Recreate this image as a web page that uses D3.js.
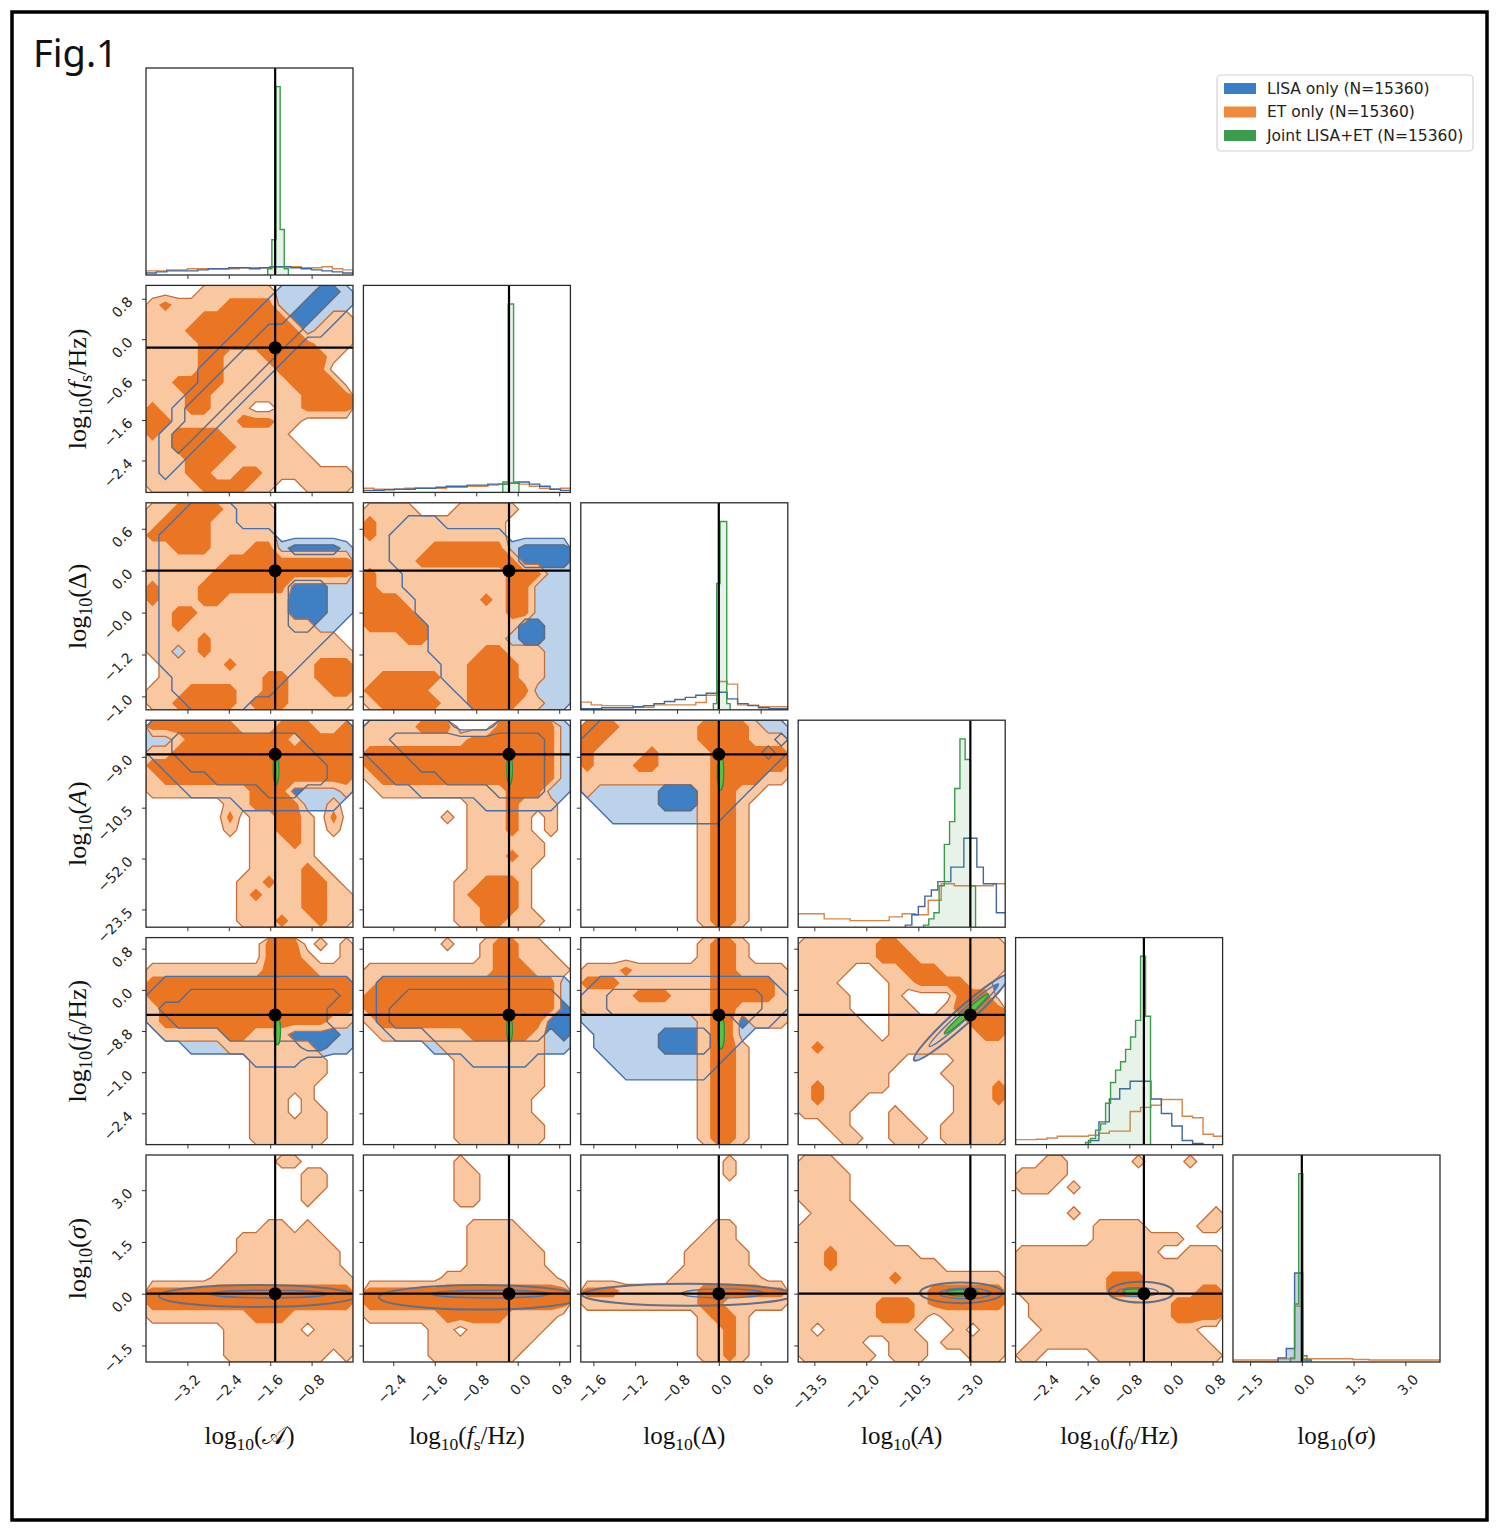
<!DOCTYPE html>
<html>
<head>
<meta charset="utf-8">
<script src="https://cdn.jsdelivr.net/npm/d3@7"></script>
<style>
  body { margin: 0; background: #fff; }
  svg text { font-family: "DejaVu Sans", sans-serif; }
</style>
</head>
<body>
<div id="chart"></div>
<script>
// ---- axis set-up (tick positions are in tick-index units, labels as printed) ----
const xDomains = [[-1, 4], [-0.72, 4.27], [-0.3, 4.65], [-0.31, 3.67], [-0.73, 4.24], [-0.33, 3.67]];
const xTickLabels = [
  ["\u22123.2", "\u22122.4", "\u22121.6", "\u22120.8"],
  ["\u22122.4", "\u22121.6", "\u22120.8", "0.0", "0.8"],
  ["\u22121.6", "\u22121.2", "\u22120.8", "0.0", "0.6"],
  ["\u221213.5", "\u221212.0", "\u221210.5", "\u22123.0"],
  ["\u22122.4", "\u22121.6", "\u22120.8", "0.0", "0.8"],
  ["\u22121.5", "0.0", "1.5", "3.0"]
];
const xTruth = [2.12, 2.79, 3.0, 3.0, 2.35, 1.0];

const yDomains = [null, [-0.33, 4.79], [-0.62, 4.32], [-0.72, 3.35], [-0.27, 4.76], [-0.68, 3.32]];
const yTickLabels = [
  null,
  ["0.8", "0.0", "\u22120.6", "\u22121.6", "\u22122.4"],
  ["0.6", "0.0", "\u22120.0", "\u22121.2", "\u22121.0"],
  ["\u22129.0", "\u221210.5", "\u221252.0", "\u221223.5"],
  ["0.8", "0.0", "\u22128.8", "\u22121.0", "\u22122.4"],
  ["3.0", "1.5", "0.0", "\u22121.5"]
];
const yTruth = [null, 1.21, 1.0, -0.05, 1.61, 2.0];

// label pieces: i = italic, r = roman, s = roman subscript
const titleParts = [
  [["\u{1D49C}", "r"]],
  [["f", "i"], ["s", "s"], ["/Hz", "r"]],
  [["\u0394", "r"]],
  [["A", "i"]],
  [["f", "i"], ["0", "s"], ["/Hz", "r"]],
  [["\u03C3", "i"]]
];

const seriesNames = ["LISA only (N=15360)", "ET only (N=15360)", "Joint LISA+ET (N=15360)"];

// ---- 1D marginals: bin start, bin width, heights (% of panel height) ----
const histLisa = [
  { x0: -1, w: 0.25, h: [1, 1.5, 2, 2, 2, 2.5, 3, 3, 3.5, 3.5, 3, 3.5, 4, 4, 3.5, 3, 2.5, 2, 1.5, 1] },
  { x0: -0.72, w: 0.25, h: [1, 1, 1.3, 1.5, 1.5, 2, 2, 2.5, 3, 3, 3.5, 3.5, 4, 4, 4.5, 5, 4, 3, 1.5, 1] },
  { x0: -0.3, w: 0.25, h: [0.5, 0.5, 1, 1, 1, 1.5, 2, 3, 4, 5, 6, 7, 8, 8.5, 5.3, 3, 2, 1, 0.5, 0.5] },
  { x0: 1.75, w: 0.125, h: [1, 6, 10, 15, 18, 22, 22, 29, 29, 43, 43, 29, 21, 21, 7, 7] },
  { x0: -0.73, w: 0.25, h: [0, 0, 0, 0, 0, 0, 0, 2, 11, 22, 27, 30.6, 30.6, 22, 15, 9, 2, 0.5, 0, 0] },
  { x0: -0.42, w: 0.16, h: [0, 0, 0, 0, 0, 0, 2, 6.5, 43, 1] }
];
const histET = [
  { x0: -1, w: 0.25, h: [2, 2, 2.5, 2.5, 3, 3, 3, 3, 3, 3.5, 3.5, 3.5, 4, 4, 4, 3.5, 3.5, 4, 3, 2.5] },
  { x0: -0.72, w: 0.25, h: [2, 1.5, 1.5, 1.5, 2, 2, 2, 2, 2.5, 2.5, 3, 3, 3.5, 4, 4.5, 4, 3, 2, 1.5, 2] },
  { x0: -0.3, w: 0.25, h: [3.7, 2.4, 2, 2, 2, 1.2, 1.2, 2.4, 2.4, 2.4, 2.4, 3.5, 7, 13.7, 12.4, 2.4, 2.2, 1.5, 1.5, 1.5] },
  { x0: -0.31, w: 0.25, h: [6.5, 6.5, 4, 4, 3.2, 3.2, 3.2, 5, 6.5, 6, 13, 21, 20, 20, 20, 21] },
  { x0: -0.73, w: 0.25, h: [2.4, 2.4, 2.6, 3.2, 4, 4, 4, 4.5, 5.5, 6.5, 6.5, 16, 18, 19, 21.8, 21.8, 13.7, 13, 5, 4] },
  { x0: -0.42, w: 0.16, h: [1, 1, 1, 1, 1, 1, 1.5, 1.5, 27, 1.6, 1.6, 1.6, 1.6, 1.6, 1.6, 1.2, 1.2, 1, 1, 1, 1, 1, 1, 1, 1, 1] }
];
const histJoint = [
  { x0: 1.94, w: 0.1, h: [3, 17, 91, 22, 3] },
  { x0: 2.64, w: 0.13, h: [5, 91, 5] },
  { x0: 2.87, w: 0.08, h: [3, 61, 91, 91, 3] },
  { x0: 2.1, w: 0.1, h: [1, 4, 7, 20, 40, 51, 67, 91, 81, 20] },
  { x0: 0.95, w: 0.12, h: [1, 3, 7, 10, 20, 30, 36, 40, 46, 52, 60, 91, 62] },
  { x0: 0.78, w: 0.08, h: [2, 28, 91, 3] }
];

// ---- 2D ET density levels (0 none, 1 outer, 2 inner), 16x16 over each panel ----
const et_fs_A = ["0000111111000000","1211112222000000","1111222222200011","1112222222220111","1111222222222111","1111221112222210","1111221111222200","1122221111122220","1112211111112222","2112211100112222","2211111222110000","2122221111100000","1122222111110000","1112221111111000","1112211221111111","1111222211001111"];
const et_D_A = ["1122221111000000","1222211111000000","2222211111000000","1122211122000000","1111112222222222","1111122222222222","2111222222200000","2111221111100000","1122111111100000","1121111111111000","1111211111111110","1101211111111111","0111112111111222","0111111112211222","1112222112211122","1122222122211111"];
const et_D_fs = ["1111000111110000","2111111111100000","2111111111100000","1111122222200000","1111222222220000","2111111111122200","2111111111122000","2221111112122000","2222111111122000","2222211111110000","1112211111100000","1111111112211100","1111111122221100","1222221122221100","2222211122222000","1222221122221100"];
const et_A_A = ["2222222111222112","0012222222212222","1122222222222222","2222222222222222","1222222222222222","1111111122200001","0000001122220010","0000002011221020","0000001011221010","0000000011121000","0000000011111000","0000000011112100","0000000112112210","0000000121112211","0000000111112211","0000000111211211"];
const et_A_fs = ["1111222000222220","1111111122222220","2222222222222220","2222222222222220","1222222222222220","0111111111122200","0000000011121110","0000001011121010","0000000011121010","0000000011111100","0000000011121100","0000000011111000","0000000112221000","0000000122221000","0000000112221000","0000000112211100"];
const et_A_D = ["2221111112222100","2211111112222111","2111121111222222","2111221111222222","1111111111222211","1000000001221100","0000000001221000","0000000001221000","0000000001221000","0000000001221000","0000000001221000","0000000001221000","0000000001221000","0000000001221000","0000000001221000","0000000001221000"];
const et_f0_A = ["0000000002220101","0000000002221001","1111111112222111","2222222222222222","2222222222222222","1222222222222222","1222222222222211","0111112211100000","0000001111111000","0000000011111100","0000000011111100","0000000011111000","0000000011101000","0000000011101100","0000000011111100","0000000011111100"];
const et_f0_fs = ["0000001001221100","0000000001221110","1111111111222111","1222222222222220","2222222222222220","2222222222222220","1222222222222200","0111111122222100","0000001111111100","0000000111111100","0000000111111100","0000000111111100","0000000111111000","0000000111111000","0000000111111100","0000000111111100"];
const et_f0_D = ["0000000001221000","0000000001221000","1112111111221111","2221111111222221","1111222111222221","1111111111221111","0000000001220111","0000000001220000","0000000001221000","0000000001221000","0000000001221000","0000000001221000","0000000001221000","0000000001221000","0000000001221000","0000000001221000"];
const et_f0_Am = ["1111112211111111","1111112221111111","1111001122211111","1110000112222110","1111000100002220","1111000110012222","1111100111111222","1111110111111122","1211111111111111","1111111100001111","1111111000011111","1211111000001112","1211100000001112","1111000100001111","0011000110011111","0001100111011111"];
const et_s_A = ["0000000000110000","0000000000001100","0000000000001100","0000000000001000","0000000000000000","0000000001101000","0000000111111100","0000000111111110","0000001111111110","0000011111111111","2222222222222222","2222222222222222","1111111122211111","0000001111110111","0000001111111111","0000001111111101"];
const et_s_fs = ["0000000100000000","0000000110000000","0000000110000000","0000000110000000","0000000000000000","0000000011110000","0000000011111000","0000000011111100","0000000011111100","0000001111111110","2222222222222222","2222222222222222","1111112222211110","0000011011111100","0000011111111000","0000011111110000"];
const et_s_D = ["0000000000010000","0000000000010000","0000000000000000","0000000000000000","0000000000000000","0000000000110000","0000000001110000","0000000011111000","0000000011111000","0000000111111100","2221111112222222","1111111112211111","0000000001221000","0000000001121000","0000000001121000","0000000001121000"];
const et_s_Am = ["1110000000000000","1111000000000000","1111000000000000","1111000000000000","0111100000000000","1111110000000000","1111111000000000","1121111110000000","1121111111100000","1111111211111111","1111111111222222","1111112221222222","1111112221011111","1011111110001011","1111100111011111","1111110111000111"];
const et_s_f0 = ["0011000001000100","1111000000000000","1110100000000000","0000000000000000","0000100000000001","0000001111000011","0000001111111000","1111111111100111","1111111111111111","1111111222111111","1111111222111122","0111111111112222","0111111111112222","0011111111111100","0111111111111110","1100001111111111"];

// ---- 2D LISA density levels ----
const Z = "0000000000000000";
const lisa_fs_A = ["0000000000111221","0000000001112211","0000000011122110","0000000112221100","0000001122210000","0000011222100000","0000112221000000","0000122210000000","0001222100000000","0012221000000000","0012210000000000","0122100000000000","0121000000000000","0110000000000000","0100000000000000",Z];
const lisa_D_A = ["0001111000000000","0011111000000000","0111111111000000","0111111111122221","0111111111111111","0111111111111111","0111111111122211","0111111111122211","0111111111122211","0111111111122110","0111111111111100","0111111111111000","0111111111110000","0011111111100000","0011111111000000","0001111100000000"];
const lisa_D_fs = [Z,"0001110000000000","0011111111100000","0011111111112222","0011111111112222","0001111111111111","0001111111111111","0000111111111111","0000111111111111","0000011111112211","0000011111112211","0000011111111111","0000001111111111","0000001111111111","0000000111111111","0000000011111111"];
const lisa_A_A = ["1111111111111111","1122222222221111","1122222222222111","0112222222222211","0011122222222211","0001111112221111","0000000111111110",Z,Z,Z,Z,Z,Z,Z,Z,Z];
const lisa_A_fs = ["1111111000111111","1122222222222211","1112222222222211","0111222222222211","0011112222222211","0000111111222211","0000000001111110",Z,Z,Z,Z,Z,Z,Z,Z,Z];
const lisa_A_D = ["0111111111111111","1111111111111112","1111111111111121","1111111111111110","1111111111111100","1111112221111000","0111112221110000","0011111111100000",Z,Z,Z,Z,Z,Z,Z,Z];
const lisa_f0_A = [Z,Z,Z,"0111111111111111","1112222222222221","1222222222222211","1122222222222211","0111112222222221","0001111111112211","0000000011110000",Z,Z,Z,Z,Z,Z];
const lisa_f0_fs = [Z,Z,Z,"0111111111111111","0112222222222221","0122222222222222","0122222222222222","0011122222222212","0000011111111111","0000000011111000",Z,Z,Z,Z,Z,Z];
const lisa_f0_D = [Z,Z,Z,"0111111111111110","1122222222222211","1122222222222211","1111111111112110","0111112222111000","0111112222110000","0011111111100000","0001111111000000",Z,Z,Z,Z,Z];

// narrow contours: row, col, cx, cy, rx, ry (grid cells), angle, level
const lisaEllipses = [
  [4, 3, 12.6, 6.2, 4.9, 0.65, -42, 1], [4, 3, 12.8, 6.0, 3.6, 0.35, -42, 2],
  [5, 0, 8.6, 10.9, 7.6, 0.85, 0, 1], [5, 0, 9.5, 10.75, 4.5, 0.3, 0, 2],
  [5, 1, 9.0, 11.0, 7.8, 0.95, 0, 1], [5, 1, 9.8, 10.75, 4.5, 0.3, 0, 2],
  [5, 2, 8.3, 10.8, 8.2, 0.85, 0, 1], [5, 2, 11.0, 10.7, 3.2, 0.35, 0, 2],
  [5, 3, 12.6, 10.65, 3.2, 0.8, 0, 1], [5, 3, 12.9, 10.7, 2.0, 0.4, 0, 2],
  [5, 4, 9.7, 10.6, 2.5, 0.8, 0, 1], [5, 4, 9.4, 10.6, 1.6, 0.35, 0, 2]
];
const jointEllipses = [
  [3, 0, 10.05, 3.8, 0.22, 1.2, 0], [3, 1, 11.3, 3.8, 0.22, 1.2, 0], [3, 2, 10.8, 4.0, 0.25, 1.4, 0],
  [4, 0, 10.15, 7.2, 0.25, 1.1, 0], [4, 1, 11.3, 7.1, 0.22, 1.0, 0], [4, 2, 10.85, 7.3, 0.25, 1.3, 0],
  [4, 3, 13.0, 5.9, 2.3, 0.22, -42], [5, 3, 12.7, 10.65, 1.3, 0.25, 0], [5, 4, 9.2, 10.55, 0.9, 0.2, 0]
];

const etGrid = {
  "1,0": et_fs_A, "2,0": et_D_A, "2,1": et_D_fs, "3,0": et_A_A, "3,1": et_A_fs, "3,2": et_A_D,
  "4,0": et_f0_A, "4,1": et_f0_fs, "4,2": et_f0_D, "4,3": et_f0_Am,
  "5,0": et_s_A, "5,1": et_s_fs, "5,2": et_s_D, "5,3": et_s_Am, "5,4": et_s_f0
};
const lisaGrid = {
  "1,0": lisa_fs_A, "2,0": lisa_D_A, "2,1": lisa_D_fs, "3,0": lisa_A_A, "3,1": lisa_A_fs, "3,2": lisa_A_D,
  "4,0": lisa_f0_A, "4,1": lisa_f0_fs, "4,2": lisa_f0_D
};

// ---- layout ----
const S = 207, PITCH = 217.4, LEFT = 146, TOP = 68;
const col = { lisa: "#41679e", et: "#d9864a", joint: "#3d9a4b" };

const svg = d3.select("#chart").append("svg")
  .attr("width", 1500).attr("height", 1537);
svg.append("rect").attr("width", 1500).attr("height", 1537).attr("fill", "#fff");
svg.append("rect").attr("x", 12).attr("y", 12).attr("width", 1475).attr("height", 1508)
  .attr("fill", "none").attr("stroke", "#000").attr("stroke-width", 3.5);
svg.append("text").attr("x", 33).attr("y", 67).text("Fig.1")
  .style("font-family", "'Noto Sans', sans-serif").style("font-size", "38px").attr("fill", "#111");

const defs = svg.append("defs");

function levelContours(rows) {
  const values = rows.flatMap(r => Array.from(r.padEnd(16, "0").slice(0, 16), Number));
  const n = 16, m = rows.length;
  const gx = d3.scaleLinear().domain([0, n]).range([0, S]);
  const gy = d3.scaleLinear().domain([0, m]).range([0, S]);
  const path = d3.geoPath(d3.geoTransform({
    point: function(px, py) { this.stream.point(gx(px), gy(py)); }
  }));
  const cs = d3.contours().size([n, m]).thresholds([0.5, 1.5])(values);
  return { cs, path };
}

function stepPoints(hb) {
  const pts = [{ x: hb.x0, h: 0 }];
  hb.h.forEach((h, k) => pts.push({ x: hb.x0 + k * hb.w, h: h }));
  pts.push({ x: hb.x0 + hb.h.length * hb.w, h: 0 });
  return pts;
}

const cell = d3.scaleLinear().domain([0, 16]).range([0, S]);

function drawEllipse(g, e, fill, stroke, sw) {
  const cx = cell(e[2]), cy = cell(e[3]);
  g.append("ellipse")
    .attr("cx", cx).attr("cy", cy)
    .attr("rx", cell(e[4])).attr("ry", cell(e[5]))
    .attr("transform", "rotate(" + e[6] + "," + cx + "," + cy + ")")
    .attr("fill", fill).attr("stroke", stroke).attr("stroke-width", sw);
}

function addTitle(sel, parts, size) {
  sel.style("font-family", "'Liberation Serif', 'DejaVu Serif', serif")
    .style("font-size", size + "px").attr("fill", "#111");
  sel.append("tspan").text("log");
  sel.append("tspan").attr("dy", size * 0.22).style("font-size", (size * 0.7) + "px").text("10");
  sel.append("tspan").attr("dy", -size * 0.22).text("(");
  let shifted = false;
  parts.forEach(p => {
    const t = sel.append("tspan").text(p[0]);
    if (p[1] === "i") t.style("font-style", "italic");
    if (p[1] === "s") {
      t.attr("dy", size * 0.22).style("font-size", (size * 0.7) + "px");
      shifted = true;
    } else if (shifted) {
      t.attr("dy", -size * 0.22);
      shifted = false;
    }
  });
  const close = sel.append("tspan").text(")");
  if (shifted) close.attr("dy", -size * 0.22);
}

for (let i = 0; i < 6; i++) {
  for (let j = 0; j <= i; j++) {
    const g = svg.append("g")
      .attr("transform", "translate(" + (LEFT + j * PITCH) + "," + (TOP + i * PITCH) + ")");
    const clipId = "clip-" + i + "-" + j;
    defs.append("clipPath").attr("id", clipId)
      .append("rect").attr("width", S).attr("height", S);
    const body = g.append("g").attr("clip-path", "url(#" + clipId + ")");
    const x = d3.scaleLinear().domain(xDomains[j]).range([0, S]);

    if (i === j) {
      // marginal histograms
      const y = d3.scaleLinear().domain([0, 100]).range([S, 0]);
      const line = d3.line().curve(d3.curveStepAfter).x(d => x(d.x)).y(d => y(d.h));
      const area = d3.area().curve(d3.curveStepAfter).x(d => x(d.x)).y0(S).y1(d => y(d.h));
      [[histET[j], col.et, 0], [histLisa[j], col.lisa, j === 5 ? 0.3 : 0], [histJoint[j], col.joint, 0.12]].forEach(s => {
        const pts = stepPoints(s[0]);
        if (s[2] > 0) body.append("path").attr("d", area(pts)).attr("fill", s[1]).attr("fill-opacity", s[2]);
        body.append("path").attr("d", line(pts)).attr("fill", "none")
          .attr("stroke", s[1]).attr("stroke-width", 1.4);
      });
      body.append("line").attr("x1", x(xTruth[j])).attr("x2", x(xTruth[j]))
        .attr("y1", 0).attr("y2", S).attr("stroke", "#000").attr("stroke-width", 2.2);
    } else {
      const y = d3.scaleLinear().domain(yDomains[i]).range([0, S]);
      const key = i + "," + j;
      const lisa = lisaGrid[key] ? levelContours(lisaGrid[key]) : null;
      const et = levelContours(etGrid[key]);
      const myL = lisaEllipses.filter(e => e[0] === i && e[1] === j);
      const myJ = jointEllipses.filter(e => e[0] === i && e[1] === j);

      // LISA filled levels (show through where ET is empty)
      if (lisa) {
        body.selectAll(".lfill").data(lisa.cs).enter().append("path")
          .attr("d", lisa.path).attr("fill", (d, k) => k === 0 ? "#bcd2ea" : "#3f7fc4");
      }
      myL.forEach(e => drawEllipse(body, e, e[7] === 1 ? "#bcd2ea" : "#3f7fc4", "none", 0));

      // ET filled levels
      body.selectAll(".efill").data(et.cs).enter().append("path")
        .attr("d", et.path).attr("fill", (d, k) => k === 0 ? "#f9c7a0" : "#ea7523");
      body.append("path").attr("d", et.path(et.cs[0])).attr("fill", "none")
        .attr("stroke", "#c46f3b").attr("stroke-width", 1.3);

      // LISA contour lines on top
      if (lisa) {
        lisa.cs.forEach((c, k) => {
          body.append("path").attr("d", lisa.path(c)).attr("fill", "none")
            .attr("stroke", k === 0 ? "#4570ad" : "#5d6a82").attr("stroke-width", 1.4);
        });
      }
      myL.forEach(e => drawEllipse(body, e, "none", e[7] === 1 ? "#5f6f88" : "#4a76b3", e[7] === 1 ? 2 : 1.4));

      // joint posterior
      myJ.forEach(e => drawEllipse(body, e, "#5cbf4a", "#2f8a3a", 1.2));

      // truth markers
      body.append("line").attr("x1", x(xTruth[j])).attr("x2", x(xTruth[j]))
        .attr("y1", 0).attr("y2", S).attr("stroke", "#000").attr("stroke-width", 2.2);
      body.append("line").attr("y1", y(yTruth[i])).attr("y2", y(yTruth[i]))
        .attr("x1", 0).attr("x2", S).attr("stroke", "#000").attr("stroke-width", 2.2);
      g.append("circle").attr("cx", x(xTruth[j])).attr("cy", y(yTruth[i]))
        .attr("r", 6.5).attr("fill", "#000");

      // left ticks
      const yAxis = d3.axisLeft(y).tickValues(d3.range(yTickLabels[i].length)).tickSize(4)
        .tickFormat(j === 0 ? (d => yTickLabels[i][d]) : (() => ""));
      const ya = g.append("g").call(yAxis);
      ya.select(".domain").remove();
      ya.selectAll(".tick line").attr("stroke", "#333");
      ya.selectAll(".tick text")
        .attr("x", 0).attr("y", 0).attr("dy", "0.35em")
        .attr("transform", "translate(-16,0) rotate(-45)")
        .attr("text-anchor", "end")
        .style("font-size", "14px").attr("fill", "#222");
    }

    // bottom ticks
    const xAxis = d3.axisBottom(x).tickValues(d3.range(xTickLabels[j].length)).tickSize(4)
      .tickFormat(i === 5 ? (d => xTickLabels[j][d]) : (() => ""));
    const xa = g.append("g").attr("transform", "translate(0," + S + ")").call(xAxis);
    xa.select(".domain").remove();
    xa.selectAll(".tick line").attr("stroke", "#333");
    xa.selectAll(".tick text")
      .attr("x", 0).attr("y", 0).attr("dy", "0.35em")
      .attr("transform", "translate(10,15) rotate(-45)")
      .attr("text-anchor", "end")
      .style("font-size", "14px").attr("fill", "#222");

    g.append("rect").attr("width", S).attr("height", S)
      .attr("fill", "none").attr("stroke", "#2b2b2b").attr("stroke-width", 1.3);
  }
}

// axis titles
for (let j = 0; j < 6; j++) {
  const t = svg.append("text").attr("text-anchor", "middle")
    .attr("x", LEFT + j * PITCH + S / 2).attr("y", 1444);
  addTitle(t, titleParts[j], 25);
}
for (let i = 1; i < 6; i++) {
  const t = svg.append("text").attr("text-anchor", "middle")
    .attr("transform", "translate(86," + (TOP + i * PITCH + S / 2) + ") rotate(-90)");
  addTitle(t, titleParts[i], 26);
}

// legend
const legend = svg.append("g").attr("transform", "translate(1217,75)");
legend.append("rect").attr("width", 256).attr("height", 76).attr("rx", 4)
  .attr("fill", "#fff").attr("stroke", "#d4d4d4").attr("stroke-width", 1.2);
const legendColors = ["#3a7ec5", "#f08a3e", "#3a9c4c"];
seriesNames.forEach((name, k) => {
  legend.append("rect").attr("x", 7).attr("y", 8 + k * 23.5).attr("width", 32).attr("height", 11)
    .attr("fill", legendColors[k]);
  legend.append("text").attr("x", 50).attr("y", 18.5 + k * 23.5).text(name)
    .style("font-size", "15.5px").attr("fill", "#222");
});
</script>
</body>
</html>
